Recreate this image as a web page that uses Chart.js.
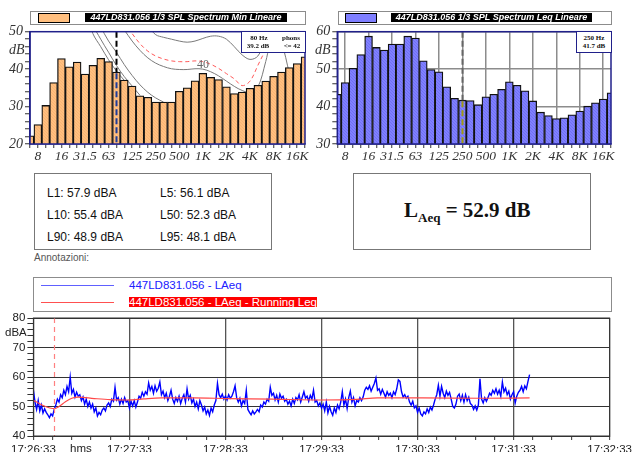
<!DOCTYPE html>
<html>
<head>
<meta charset="utf-8">
<title>Spectrum and LAeq history</title>
<script src="https://cdn.jsdelivr.net/npm/chart.js"></script>
<style>
    body { margin: 0; width: 635px; height: 452px; overflow: hidden; background: #fff; position: relative;
           font-family: 'Liberation Sans', Arial, sans-serif; }
    canvas { position: absolute; }
    .abs { position: absolute; white-space: nowrap; }
    .legend { position: absolute; border: 1px solid #8c8c8c; background: #fff; box-sizing: border-box; }
    .swatch { position: absolute; border: 1px solid #000; box-sizing: border-box; }
    .ltitle { position: absolute; background: #000; color: #fff; font: italic bold 9px 'Liberation Sans', Arial, sans-serif;
              line-height: 9px; height: 9px; text-align: center; white-space: nowrap; }
    .info { position: absolute; border: 1px solid #20208a; background: #fff; box-sizing: border-box;
            font: bold 7px 'Liberation Serif', serif; color: #111; }
    .info span { position: absolute; transform: translate(-50%, -50%); white-space: nowrap; }
    .unit { position: absolute; font: italic 14px 'Liberation Serif', serif; color: #333; transform: translateY(-50%); }
    .box { position: absolute; border: 1px solid #777; box-sizing: border-box; }
    .stat { position: absolute; font-size: 12px; color: #111; white-space: nowrap; transform: translateY(-50%); }
</style>
</head>
<body>
<canvas id="minChart" width="312" height="158" style="left:0;top:14px"></canvas>
<canvas id="leqChart" width="323" height="158" style="left:312px;top:14px"></canvas>
<canvas id="timeChart" width="635" height="174" style="left:0;top:296px"></canvas>

<!-- spectrum legends -->
<div class="legend" style="left:30px;top:11px;width:276px;height:14px"></div>
<div class="swatch" style="left:38px;top:13px;width:32px;height:10px;background:#ffbf7f"></div>
<div class="ltitle" style="left:85px;top:13px;width:202px">447LD831.056 1/3 SPL Spectrum Min Lineare</div>
<div class="legend" style="left:338px;top:11px;width:274px;height:14px"></div>
<div class="swatch" style="left:345px;top:13px;width:32px;height:10px;background:#7f7fff"></div>
<div class="ltitle" style="left:391px;top:13px;width:201px">447LD831.056 1/3 SPL Spectrum Leq Lineare</div>

<div class="unit" style="left:9px;top:50px">dB</div>
<div class="unit" style="left:315px;top:50px">dB</div>
<div class="abs" style="left:197px;top:57px;font:12px 'Liberation Serif',serif;color:#666">40</div>

<div class="info" style="left:241px;top:31px;width:65px;height:22px">
    <span style="left:17px;top:6px">80 Hz</span><span style="left:49px;top:6px">phons</span>
    <span style="left:16px;top:14px">39.2 dB</span><span style="left:50px;top:14px">&lt;= 42</span>
</div>
<div class="info" style="left:576px;top:31px;width:36px;height:22px">
    <span style="left:17px;top:6px">250 Hz</span>
    <span style="left:17px;top:14px">41.7 dB</span>
</div>

<!-- statistics -->
<div class="box" style="left:34px;top:173px;width:238px;height:77px"></div>
<div class="stat" style="left:47px;top:193px">L1: 57.9 dBA</div>
<div class="stat" style="left:160px;top:193px">L5: 56.1 dBA</div>
<div class="stat" style="left:47px;top:215px">L10: 55.4 dBA</div>
<div class="stat" style="left:160px;top:215px">L50: 52.3 dBA</div>
<div class="stat" style="left:47px;top:237px">L90: 48.9 dBA</div>
<div class="stat" style="left:160px;top:237px">L95: 48.1 dBA</div>
<div class="box" style="left:353px;top:173px;width:238px;height:77px"></div>
<div class="abs" style="left:404px;top:198px;font:bold 21px 'Liberation Serif',serif;color:#111">L<sub style="font-size:13px">Aeq</sub> = 52.9 dB</div>

<div class="abs" style="left:34px;top:252px;font-size:10px;color:#555">Annotazioni:</div>

<!-- time history legend -->
<div class="legend" style="left:33px;top:277px;width:579px;height:35px"></div>
<div class="abs" style="left:41px;top:285px;width:73px;height:1px;background:#6060ff"></div>
<div class="abs" style="left:129px;top:279px;font-size:11.5px;line-height:13px;color:#2020ff">447LD831.056 - LAeq</div>
<div class="abs" style="left:41px;top:302px;width:73px;height:1px;background:#ff5050"></div>
<div class="abs" style="left:129px;top:297px;font-size:11.5px;line-height:10px;height:10px;color:#fff;background:#ff0000">447LD831.056 - LAeq - Running Leq</div>

<div class="abs" style="left:5px;top:326px;font-size:11.5px;color:#222">dBA</div>
<div class="abs" style="left:70px;top:442px;font-size:11.5px;color:#222">hms</div>

<script>
    // 1/3 octave bands, 6.3 Hz .. 20 kHz
    const bands = ['6.3','8','10','12.5','16','20','25','31.5','40','50','63','80','100','125','160','200','250','315',
                   '400','500','630','800','1K','1.25K','1.6K','2K','2.5K','3.15K','4K','5K','6.3K','8K','10K','12.5K','16K','20K'];
    const freqTicks = ['8','16','31.5','63','125','250','500','1K','2K','4K','8K','16K'];

    const minSpectrum = [22.2, 25.2, 30.3, 36.4, 42.8, 40.6, 41.9, 38.7, 41.0, 42.9, 42.0, 39.2, 37.1, 35.5, 32.9, 32.5, 31.2, 31.2,
                         31.2, 34.1, 35.0, 36.9, 38.9, 37.8, 37.2, 35.3, 33.5, 33.9, 34.9, 35.7, 36.8, 38.1, 39.2, 40.4, 41.5, 43.3];
    const leqSpectrum = [43.3, 46.4, 50.2, 53.9, 58.8, 55.8, 55.1, 56.7, 56.7, 58.8, 58.3, 52.2, 49.9, 49.3, 45.3, 42.2, 41.7, 41.6,
                         40.5, 42.6, 43.3, 44.6, 46.6, 45.7, 44.2, 41.5, 38.5, 37.6, 36.8, 37.0, 37.8, 38.8, 40.1, 41.0, 42.0, 43.7];

    // equal loudness curves drawn behind the Min spectrum
    const _ = null;
    const curveA = [_,_,_,_,_,_,_,56,49.5,46,42.5,39.5,37,_,_,_,_,_,_,_,_,_,_,_,_,_,_,_,_,_,_,_,_,_,_,_];
    const curveB = [_,_,_,_,_,_,_,60,52,48,44.5,41,38,35.5,33,_,_,_,_,_,_,_,_,_,_,_,_,_,_,_,_,_,_,_,_,_];
    const curveC = [_,_,_,_,_,_,_,_,58,51.5,47.5,44.5,41.2,38.3,35.8,33.8,32.3,31.2,_,_,_,_,_,_,_,_,_,_,_,_,_,_,_,_,_,_];
    const curve40 = [_,_,_,_,_,_,_,_,_,_,_,_,50.5,47.5,45,43,41.6,40.7,40.1,39.9,39.9,40.1,40.0,39.3,38.2,36.8,35.4,34.3,
                     33.8,35.2,42,50,47,39,_,_];
    const curve42 = [_,_,_,_,_,_,_,_,_,_,_,_,52.5,49.5,46.8,44.8,43.5,42.7,42.2,42.0,42.0,42.2,42.0,41.3,40.2,38.8,37.4,35.6,
                     36.8,41.0,45.5,52,_,_,_,_];
    const curve50 = [_,_,_,_,_,_,_,_,_,_,_,_,_,_,_,51.5,49.2,48.5,48.0,47.5,47.2,47.5,48.2,48.8,48.8,48.0,46.0,43.8,42.6,
                     43.5,48.0,55,_,_,_,_];

    // LAeq time history, one value per second from 17:26:33
    const timeLabels = ['17:26:33','17:27:33','17:28:33','17:29:33','17:30:33','17:31:33','17:32:33'];
    const laeq = [
        55.5, 51.5, 49.0, 52.0, 48.5, 50.5, 47.8, 49.2, 48.0, 47.2,
        46.2, 47.5, 46.8, 49.0, 50.5, 52.5, 51.5, 54.0, 53.0, 55.5,
        54.0, 56.8, 55.0, 60.0, 54.5, 55.8, 53.2, 54.8, 53.5, 54.0,
        52.0, 53.2, 50.8, 52.5, 50.0, 51.5, 49.5, 50.8, 48.2, 49.5,
        46.8, 48.0, 47.2, 48.8, 49.5, 48.5, 50.5, 51.2, 50.0, 52.5,
        51.8, 56.5, 52.2, 53.0, 50.8, 52.5, 51.0, 53.0, 51.5, 52.0,
        49.5, 51.8, 50.2, 52.0, 49.8, 51.5, 53.5, 52.8, 54.8, 53.5,
        55.0, 54.2, 58.0, 55.5, 56.8, 54.5, 57.0, 55.2, 56.2, 58.3,
        54.0, 55.2, 53.0, 54.5, 52.0, 53.5, 55.5, 52.5, 51.0, 53.0,
        51.8, 53.5, 51.0, 52.8, 54.0, 51.5, 56.0, 52.5, 53.8, 51.2,
        52.5, 50.0, 51.5, 49.2, 52.0, 50.5, 48.5, 49.8, 47.5, 48.8,
        47.0, 49.5, 48.2, 50.5, 52.0, 57.8, 54.0, 53.0, 54.2, 52.5,
        53.5, 52.2, 54.0, 52.8, 53.5, 55.0, 57.0, 53.0, 51.5, 52.8,
        50.2, 52.0, 51.0, 55.5, 49.0, 48.0, 47.2, 48.5, 47.5, 48.2,
        49.0, 48.2, 50.5, 49.8, 51.5, 50.8, 52.5, 51.8, 56.5, 53.8,
        54.5, 52.2, 53.8, 51.5, 54.2, 52.8, 53.5, 51.8, 52.5, 50.8,
        51.8, 50.2, 52.5, 51.0, 53.0, 52.2, 54.0, 51.5, 53.2, 55.0,
        52.8, 53.5, 51.8, 53.8, 52.5, 55.5, 51.5, 52.0, 50.2, 51.2,
        49.5, 50.8, 48.5, 51.5, 47.8, 50.0, 48.2, 47.0, 49.5, 48.0,
        50.5, 49.2, 51.5, 55.0, 50.5, 52.5, 49.3, 53.0, 55.2, 51.5,
        53.0, 50.2, 52.0, 51.5, 53.0, 52.0, 53.2, 55.5, 56.5, 55.8,
        57.0, 55.2, 56.5, 57.8, 59.7, 55.5, 56.0, 54.2, 55.8, 54.5,
        53.2, 55.0, 53.8, 54.5, 53.0, 55.0, 54.0, 56.0, 59.0, 58.5,
        55.0, 53.2, 54.0, 52.8, 53.5, 51.5, 50.5, 51.8, 49.5, 50.2,
        48.0, 49.5, 47.5, 46.8, 48.2, 47.5, 49.2, 48.0, 49.8, 48.8,
        50.5, 52.5, 54.0, 57.2, 53.5, 56.8, 54.5, 53.0, 55.2, 53.8,
        54.8, 52.5, 50.0, 49.5, 50.8, 53.5, 54.2, 52.0, 53.8, 51.5,
        54.0, 52.0, 53.2, 51.0, 50.5, 49.0, 50.2, 48.8, 50.5, 59.4,
        52.5, 51.2, 53.0, 51.8, 53.0, 54.5, 53.8, 55.5, 54.5, 56.0,
        54.2, 55.5, 53.5, 58.3, 55.0, 56.2, 54.0, 55.2, 52.5, 54.0,
        55.0, 51.2, 53.5, 54.8, 55.5, 56.8, 55.0, 57.0, 56.0, 58.5, 60.8
    ];
    const runT = [0, 2, 5, 8, 11, 13, 16, 20, 24, 28, 38, 48, 59, 69, 80, 100, 121, 150, 179, 202, 215, 243, 280, 310];
    const runLeq = [52.1, 51.5, 50.6, 49.9, 49.4, 49.3, 50.0, 51.6, 52.8, 53.2, 52.7, 52.3, 52.2, 52.6, 52.9, 52.9, 52.7,
                    52.5, 52.2, 52.4, 52.9, 52.9, 52.8, 52.9];
    const markerTime = 12.6;

    function pts(arr) {
        const out = [];
        arr.forEach((v, i) => { if (v !== null) out.push({ x: i, y: v }); });
        return out;
    }

    function pattern(base, dot) {
        const c = document.createElement('canvas');
        c.width = 3; c.height = 3;
        const g = c.getContext('2d');
        g.fillStyle = base; g.fillRect(0, 0, 3, 3);
        g.fillStyle = dot;
        g.fillRect(0, 0, 1, 1); g.fillRect(1, 1, 1, 1); g.fillRect(2, 2, 1, 1);
        return g.createPattern(c, 'repeat');
    }

    const frame = {
        id: 'frame',
        afterDraw(chart, args, o) {
            const { ctx, chartArea: a } = chart;
            ctx.save();
            ctx.strokeStyle = o.color;
            ctx.lineWidth = o.width;
            ctx.strokeRect(a.left, a.top, a.right - a.left, a.bottom - a.top);
            ctx.restore();
        }
    };

    const cursor = {
        id: 'cursor',
        afterDatasetsDraw(chart, args, o) {
            if (o.at === undefined) return;
            const { ctx, chartArea: a, scales: { x, y } } = chart;
            const px = Math.round(x.getPixelForValue(o.at)) + 0.5;
            const py = o.level !== undefined ? y.getPixelForValue(o.level) : a.bottom;
            ctx.save();
            ctx.lineWidth = o.width;
            ctx.setLineDash(o.dash);
            ctx.strokeStyle = o.upper;
            ctx.beginPath(); ctx.moveTo(px, a.top); ctx.lineTo(px, py); ctx.stroke();
            if (py < a.bottom) {
                ctx.strokeStyle = o.lower;
                ctx.beginPath(); ctx.moveTo(px, py + 1); ctx.lineTo(px, a.bottom); ctx.stroke();
            }
            ctx.restore();
        }
    };

    const serif = { family: "'Liberation Serif', serif", style: 'italic', size: 13.5 };

    function spectrumOptions(yMin, yMax, yWidth, padRight, showGrid) {
        return {
            responsive: false,
            animation: false,
            layout: { padding: { top: 17.7, right: padRight, left: 0, bottom: 0 } },
            plugins: { legend: { display: false }, tooltip: { enabled: false } },
            scales: {
                x: {
                    type: 'linear', min: 0, max: 35, offset: false,
                    afterFit: s => { s.height = 28; },
                    border: { color: '#20208a', width: 1.5 },
                    grid: {
                        offset: false,
                        drawOnChartArea: showGrid,
                        color: c => showGrid && c.tick && freqTicks.includes(bands[c.tick.value]) ? '#8c8c8c' : 'rgba(0,0,0,0)',
                        lineWidth: 1.5,
                        tickColor: '#333', tickLength: 4, tickWidth: 1
                    },
                    ticks: {
                        stepSize: 1, autoSkip: false, maxRotation: 0, padding: 0,
                        color: '#333', font: serif,
                        callback: v => freqTicks.includes(bands[v]) ? bands[v] : ''
                    }
                },
                y: {
                    min: yMin, max: yMax,
                    afterFit: s => { s.width = yWidth; },
                    border: { color: '#20208a', width: 1.5 },
                    grid: {
                        drawOnChartArea: showGrid,
                        color: c => showGrid && c.tick && c.tick.value % 10 === 0 ? '#8c8c8c' : 'rgba(0,0,0,0)',
                        lineWidth: 1.5,
                        tickColor: '#333', tickLength: 5, tickWidth: 1
                    },
                    ticks: {
                        stepSize: 2, autoSkip: false, padding: 2,
                        color: '#333', font: { ...serif, size: 14 },
                        callback: v => v % 10 === 0 ? v : ''
                    }
                }
            }
        };
    }

    const curveStyle = (data, color, dash) => ({
        type: 'line', data: pts(data), borderColor: color, borderWidth: 1, borderDash: dash,
        pointRadius: 0, tension: 0.35, order: 1, clip: 0
    });

    const minOpts = spectrumOptions(20, 50, 30, 7, false);
    minOpts.plugins.frame = { color: '#20208a', width: 1.5 };
    minOpts.plugins.cursor = { at: 11, level: minSpectrum[11], upper: '#000', lower: '#1c3c9c', width: 2, dash: [6, 3] };
    new Chart(document.getElementById('minChart').getContext('2d'), {
        type: 'bar',
        data: {
            datasets: [
                { type: 'bar', data: pts(minSpectrum), backgroundColor: pattern('#ffbf7f', '#f8b474'),
                  borderColor: '#111', borderWidth: 1.3, barPercentage: 1, categoryPercentage: 1, order: 0 },
                curveStyle(curveA, '#7a7a7a', []),
                curveStyle(curveB, '#7a7a7a', []),
                curveStyle(curveC, '#7a7a7a', []),
                curveStyle(curve40, '#7a7a7a', []),
                curveStyle(curve42, '#ff5a5a', [4, 3]),
                curveStyle(curve50, '#7a7a7a', [])
            ]
        },
        options: minOpts,
        plugins: [frame, cursor]
    });

    const leqOpts = spectrumOptions(30, 60, 25.3, 24, true);
    leqOpts.plugins.frame = { color: '#20208a', width: 1.5 };
    leqOpts.plugins.cursor = { at: 16, level: leqSpectrum[16], upper: '#666', lower: '#a09a10', width: 2, dash: [6, 3] };
    new Chart(document.getElementById('leqChart').getContext('2d'), {
        type: 'bar',
        data: {
            datasets: [
                { data: pts(leqSpectrum), backgroundColor: pattern('#8080ff', '#7070f2'),
                  borderColor: '#111', borderWidth: 1.3, barPercentage: 1, categoryPercentage: 1 }
            ]
        },
        options: leqOpts,
        plugins: [frame, cursor]
    });

    const sans = { family: "'Liberation Sans', Arial, sans-serif", size: 11.5 };
    new Chart(document.getElementById('timeChart').getContext('2d'), {
        type: 'line',
        data: {
            datasets: [
                { data: runT.map((t, i) => ({ x: t, y: runLeq[i] })), borderColor: '#ff4848', borderWidth: 1.2,
                  pointRadius: 0, cubicInterpolationMode: 'monotone', order: 0 },
                { data: laeq.map((v, i) => ({ x: i, y: v })), borderColor: '#0000ff', borderWidth: 1.4,
                  pointRadius: 0, tension: 0, order: 1 }
            ]
        },
        options: {
            responsive: false,
            animation: false,
            layout: { padding: { top: 22, right: 23.3, left: 0, bottom: 0 } },
            plugins: {
                legend: { display: false }, tooltip: { enabled: false },
                frame: { color: '#333', width: 1 },
                cursor: { at: markerTime, upper: '#ff8080', lower: '#ff8080', width: 1.2, dash: [5, 4] }
            },
            scales: {
                x: {
                    type: 'linear', min: 0, max: 360,
                    afterFit: s => { s.height = 34; },
                    border: { color: '#333', width: 1 },
                    grid: {
                        color: c => c.tick && c.tick.value % 60 === 0 ? '#555' : 'rgba(0,0,0,0)',
                        lineWidth: 1.3,
                        tickColor: '#333', tickLength: 4, tickWidth: 1
                    },
                    ticks: {
                        stepSize: 12, autoSkip: false, maxRotation: 0, padding: 3,
                        color: '#222', font: sans,
                        callback: v => v % 60 === 0 ? timeLabels[v / 60] : ''
                    }
                },
                y: {
                    min: 40, max: 80,
                    afterFit: s => { s.width = 33.4; },
                    border: { color: '#333', width: 1 },
                    grid: {
                        color: c => c.tick && c.tick.value % 10 === 0 ? '#333' : 'rgba(0,0,0,0)',
                        lineWidth: 1,
                        tickColor: '#333', tickLength: 6, tickWidth: 1
                    },
                    ticks: {
                        stepSize: 2, autoSkip: false, padding: 2,
                        color: '#222', font: sans,
                        callback: v => v % 10 === 0 ? v : ''
                    }
                }
            }
        },
        plugins: [frame, cursor]
    });
</script>
</body>
</html>
